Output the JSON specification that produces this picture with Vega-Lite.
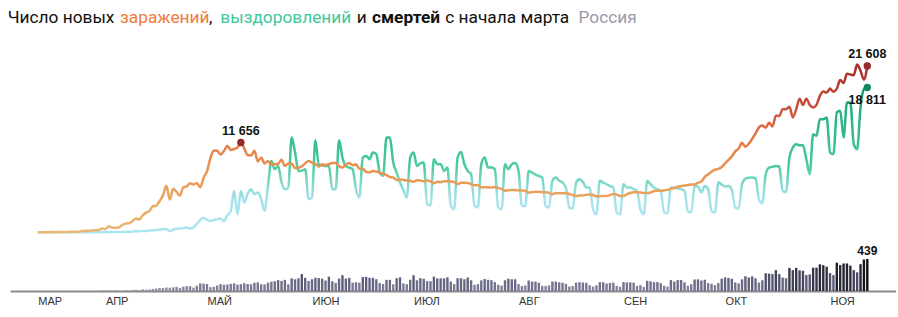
{
"$schema": "https://vega.github.io/schema/vega-lite/v6.json",
"background": "white",
"padding": {"left": 7, "top": 9, "right": 0, "bottom": 0},
"spacing": 6,
"config": {"view": {"stroke": null}, "title": {"font": "Roboto", "fontSize": 17.3, "fontWeight": "normal", "anchor": "start", "offset": 2, "color": "#111111"}},
"datasets": {
"covid": [
{"date":"2020-03-12","cases":6,"rec":0,"deaths":0},{"date":"2020-03-13","cases":11,"rec":0,"deaths":0},{"date":"2020-03-14","cases":14,"rec":0,"deaths":0},{"date":"2020-03-15","cases":4,"rec":3,"deaths":0},{"date":"2020-03-16","cases":30,"rec":1,"deaths":0},{"date":"2020-03-17","cases":21,"rec":3,"deaths":0},{"date":"2020-03-18","cases":33,"rec":0,"deaths":0},{"date":"2020-03-19","cases":52,"rec":3,"deaths":1},{"date":"2020-03-20","cases":54,"rec":1,"deaths":0},{"date":"2020-03-21","cases":53,"rec":7,"deaths":0},
{"date":"2020-03-22","cases":61,"rec":4,"deaths":0},{"date":"2020-03-23","cases":71,"rec":5,"deaths":0},{"date":"2020-03-24","cases":57,"rec":8,"deaths":0},{"date":"2020-03-25","cases":163,"rec":2,"deaths":1},{"date":"2020-03-26","cases":182,"rec":21,"deaths":1},{"date":"2020-03-27","cases":196,"rec":9,"deaths":1},{"date":"2020-03-28","cases":228,"rec":11,"deaths":0},{"date":"2020-03-29","cases":270,"rec":31,"deaths":4},{"date":"2020-03-30","cases":302,"rec":17,"deaths":1},{"date":"2020-03-31","cases":501,"rec":22,"deaths":8},
{"date":"2020-04-01","cases":440,"rec":45,"deaths":7},{"date":"2020-04-02","cases":771,"rec":23,"deaths":6},{"date":"2020-04-03","cases":601,"rec":50,"deaths":4},{"date":"2020-04-04","cases":582,"rec":35,"deaths":9},{"date":"2020-04-05","cases":658,"rec":38,"deaths":2},{"date":"2020-04-06","cases":954,"rec":49,"deaths":2},{"date":"2020-04-07","cases":1154,"rec":34,"deaths":11},{"date":"2020-04-08","cases":1175,"rec":67,"deaths":5},{"date":"2020-04-09","cases":1459,"rec":80,"deaths":13},{"date":"2020-04-10","cases":1786,"rec":170,"deaths":18},
{"date":"2020-04-11","cases":1667,"rec":100,"deaths":12},{"date":"2020-04-12","cases":2186,"rec":197,"deaths":24},{"date":"2020-04-13","cases":2558,"rec":160,"deaths":18},{"date":"2020-04-14","cases":2774,"rec":220,"deaths":22},{"date":"2020-04-15","cases":3388,"rec":240,"deaths":28},{"date":"2020-04-16","cases":3448,"rec":300,"deaths":34},{"date":"2020-04-17","cases":4070,"rec":340,"deaths":41},{"date":"2020-04-18","cases":4785,"rec":390,"deaths":40},{"date":"2020-04-19","cases":6060,"rec":420,"deaths":48},{"date":"2020-04-20","cases":4268,"rec":130,"deaths":44},
{"date":"2020-04-21","cases":5642,"rec":330,"deaths":51},{"date":"2020-04-22","cases":5236,"rec":450,"deaths":57},{"date":"2020-04-23","cases":4774,"rec":500,"deaths":42},{"date":"2020-04-24","cases":5849,"rec":560,"deaths":60},{"date":"2020-04-25","cases":5966,"rec":620,"deaths":66},{"date":"2020-04-26","cases":6361,"rec":480,"deaths":66},{"date":"2020-04-27","cases":6198,"rec":600,"deaths":47},{"date":"2020-04-28","cases":6411,"rec":1100,"deaths":73},{"date":"2020-04-29","cases":5841,"rec":1600,"deaths":105},{"date":"2020-04-30","cases":7099,"rec":1900,"deaths":101},
{"date":"2020-05-01","cases":7933,"rec":1600,"deaths":96},{"date":"2020-05-02","cases":9623,"rec":1470,"deaths":53},{"date":"2020-05-03","cases":10633,"rec":1600,"deaths":58},{"date":"2020-05-04","cases":10581,"rec":1690,"deaths":76},{"date":"2020-05-05","cases":10102,"rec":1780,"deaths":95},{"date":"2020-05-06","cases":10559,"rec":1470,"deaths":86},{"date":"2020-05-07","cases":11231,"rec":2200,"deaths":88},{"date":"2020-05-08","cases":10699,"rec":2770,"deaths":98},{"date":"2020-05-09","cases":10817,"rec":5370,"deaths":104},{"date":"2020-05-10","cases":11012,"rec":2340,"deaths":88},
{"date":"2020-05-11","cases":11656,"rec":5370,"deaths":94},{"date":"2020-05-12","cases":10899,"rec":3860,"deaths":107},{"date":"2020-05-13","cases":10028,"rec":5000,"deaths":96},{"date":"2020-05-14","cases":9974,"rec":5590,"deaths":93},{"date":"2020-05-15","cases":10598,"rec":4940,"deaths":113},{"date":"2020-05-16","cases":9200,"rec":5160,"deaths":119},{"date":"2020-05-17","cases":9709,"rec":4290,"deaths":94},{"date":"2020-05-18","cases":8926,"rec":2770,"deaths":91},{"date":"2020-05-19","cases":9263,"rec":6000,"deaths":115},{"date":"2020-05-20","cases":8764,"rec":9270,"deaths":127},
{"date":"2020-05-21","cases":8849,"rec":8190,"deaths":135},{"date":"2020-05-22","cases":8894,"rec":8620,"deaths":150},{"date":"2020-05-23","cases":9434,"rec":6500,"deaths":139},{"date":"2020-05-24","cases":8599,"rec":5590,"deaths":153},{"date":"2020-05-25","cases":8946,"rec":5810,"deaths":92},{"date":"2020-05-26","cases":8915,"rec":12310,"deaths":174},{"date":"2020-05-27","cases":8338,"rec":10360,"deaths":161},{"date":"2020-05-28","cases":8371,"rec":7970,"deaths":174},{"date":"2020-05-29","cases":8572,"rec":8000,"deaths":232},{"date":"2020-05-30","cases":8952,"rec":8190,"deaths":181},
{"date":"2020-05-31","cases":9268,"rec":4290,"deaths":138},{"date":"2020-06-01","cases":9035,"rec":4510,"deaths":162},{"date":"2020-06-02","cases":8863,"rec":11960,"deaths":182},{"date":"2020-06-03","cases":8536,"rec":8840,"deaths":178},{"date":"2020-06-04","cases":8831,"rec":8700,"deaths":169},{"date":"2020-06-05","cases":8726,"rec":8620,"deaths":144},{"date":"2020-06-06","cases":8855,"rec":8620,"deaths":197},{"date":"2020-06-07","cases":8984,"rec":5590,"deaths":134},{"date":"2020-06-08","cases":8985,"rec":5590,"deaths":112},{"date":"2020-06-09","cases":8595,"rec":11960,"deaths":171},
{"date":"2020-06-10","cases":8404,"rec":9700,"deaths":216},{"date":"2020-06-11","cases":8779,"rec":8620,"deaths":171},{"date":"2020-06-12","cases":8987,"rec":8400,"deaths":181},{"date":"2020-06-13","cases":8706,"rec":8190,"deaths":114},{"date":"2020-06-14","cases":8835,"rec":5590,"deaths":119},{"date":"2020-06-15","cases":8246,"rec":4510,"deaths":113},{"date":"2020-06-16","cases":8248,"rec":9700,"deaths":193},{"date":"2020-06-17","cases":7843,"rec":9920,"deaths":194},{"date":"2020-06-18","cases":7790,"rec":9490,"deaths":182},{"date":"2020-06-19","cases":7972,"rec":10360,"deaths":181},
{"date":"2020-06-20","cases":7889,"rec":10140,"deaths":161},{"date":"2020-06-21","cases":7728,"rec":7760,"deaths":109},{"date":"2020-06-22","cases":7600,"rec":7330,"deaths":95},{"date":"2020-06-23","cases":7425,"rec":12310,"deaths":153},{"date":"2020-06-24","cases":7176,"rec":12310,"deaths":154},{"date":"2020-06-25","cases":7113,"rec":9050,"deaths":92},{"date":"2020-06-26","cases":6800,"rec":7760,"deaths":176},{"date":"2020-06-27","cases":6852,"rec":6460,"deaths":188},{"date":"2020-06-28","cases":6791,"rec":5500,"deaths":104},{"date":"2020-06-29","cases":6719,"rec":4510,"deaths":93},
{"date":"2020-06-30","cases":6693,"rec":9700,"deaths":154},{"date":"2020-07-01","cases":6556,"rec":10360,"deaths":216},{"date":"2020-07-02","cases":6760,"rec":8620,"deaths":147},{"date":"2020-07-03","cases":6718,"rec":8940,"deaths":176},{"date":"2020-07-04","cases":6632,"rec":9050,"deaths":168},{"date":"2020-07-05","cases":6736,"rec":3640,"deaths":135},{"date":"2020-07-06","cases":6611,"rec":3510,"deaths":134},{"date":"2020-07-07","cases":6368,"rec":9490,"deaths":198},{"date":"2020-07-08","cases":6562,"rec":8840,"deaths":173},{"date":"2020-07-09","cases":6509,"rec":8840,"deaths":174},
{"date":"2020-07-10","cases":6635,"rec":7970,"deaths":174},{"date":"2020-07-11","cases":6615,"rec":8400,"deaths":188},{"date":"2020-07-12","cases":6611,"rec":3420,"deaths":130},{"date":"2020-07-13","cases":6537,"rec":2990,"deaths":95},{"date":"2020-07-14","cases":6248,"rec":9700,"deaths":175},{"date":"2020-07-15","cases":6422,"rec":10440,"deaths":175},{"date":"2020-07-16","cases":6428,"rec":8840,"deaths":162},{"date":"2020-07-17","cases":6406,"rec":7970,"deaths":186},{"date":"2020-07-18","cases":6234,"rec":7540,"deaths":147},{"date":"2020-07-19","cases":6109,"rec":3420,"deaths":85},
{"date":"2020-07-20","cases":6139,"rec":3210,"deaths":95},{"date":"2020-07-21","cases":5842,"rec":8840,"deaths":146},{"date":"2020-07-22","cases":5862,"rec":9700,"deaths":165},{"date":"2020-07-23","cases":5848,"rec":8400,"deaths":154},{"date":"2020-07-24","cases":5811,"rec":8400,"deaths":147},{"date":"2020-07-25","cases":5871,"rec":8190,"deaths":122},{"date":"2020-07-26","cases":5765,"rec":3210,"deaths":85},{"date":"2020-07-27","cases":5635,"rec":2990,"deaths":75},{"date":"2020-07-28","cases":5395,"rec":8840,"deaths":147},{"date":"2020-07-29","cases":5475,"rec":8190,"deaths":169},
{"date":"2020-07-30","cases":5509,"rec":8840,"deaths":161},{"date":"2020-07-31","cases":5482,"rec":9000,"deaths":161},{"date":"2020-08-01","cases":5462,"rec":7970,"deaths":95},{"date":"2020-08-02","cases":5427,"rec":3420,"deaths":70},{"date":"2020-08-03","cases":5394,"rec":3420,"deaths":77},{"date":"2020-08-04","cases":5159,"rec":7970,"deaths":144},{"date":"2020-08-05","cases":5204,"rec":7760,"deaths":129},{"date":"2020-08-06","cases":5267,"rec":7500,"deaths":129},{"date":"2020-08-07","cases":5241,"rec":7300,"deaths":114},{"date":"2020-08-08","cases":5212,"rec":7110,"deaths":70},
{"date":"2020-08-09","cases":5189,"rec":3420,"deaths":70},{"date":"2020-08-10","cases":5118,"rec":3210,"deaths":77},{"date":"2020-08-11","cases":4945,"rec":6680,"deaths":130},{"date":"2020-08-12","cases":5102,"rec":7110,"deaths":129},{"date":"2020-08-13","cases":5057,"rec":6680,"deaths":119},{"date":"2020-08-14","cases":5065,"rec":6460,"deaths":114},{"date":"2020-08-15","cases":5061,"rec":5810,"deaths":98},{"date":"2020-08-16","cases":4969,"rec":3210,"deaths":62},{"date":"2020-08-17","cases":4839,"rec":3080,"deaths":68},{"date":"2020-08-18","cases":4718,"rec":6460,"deaths":115},
{"date":"2020-08-19","cases":4790,"rec":6890,"deaths":121},{"date":"2020-08-20","cases":4767,"rec":6550,"deaths":117},{"date":"2020-08-21","cases":4870,"rec":5810,"deaths":113},{"date":"2020-08-22","cases":4921,"rec":5810,"deaths":80},{"date":"2020-08-23","cases":4852,"rec":2990,"deaths":61},{"date":"2020-08-24","cases":4676,"rec":2340,"deaths":78},{"date":"2020-08-25","cases":4696,"rec":6680,"deaths":121},{"date":"2020-08-26","cases":4729,"rec":6460,"deaths":121},{"date":"2020-08-27","cases":4711,"rec":6240,"deaths":102},{"date":"2020-08-28","cases":4829,"rec":6000,"deaths":110},
{"date":"2020-08-29","cases":4980,"rec":5810,"deaths":115},{"date":"2020-08-30","cases":4897,"rec":2560,"deaths":70},{"date":"2020-08-31","cases":4729,"rec":2340,"deaths":59},{"date":"2020-09-01","cases":4729,"rec":6240,"deaths":123},{"date":"2020-09-02","cases":4952,"rec":5810,"deaths":117},{"date":"2020-09-03","cases":5110,"rec":5810,"deaths":119},{"date":"2020-09-04","cases":5205,"rec":5600,"deaths":114},{"date":"2020-09-05","cases":5195,"rec":5370,"deaths":70},{"date":"2020-09-06","cases":5185,"rec":2990,"deaths":79},{"date":"2020-09-07","cases":5099,"rec":2340,"deaths":55},
{"date":"2020-09-08","cases":5099,"rec":6660,"deaths":141},{"date":"2020-09-09","cases":5172,"rec":6240,"deaths":133},{"date":"2020-09-10","cases":5363,"rec":5810,"deaths":122},{"date":"2020-09-11","cases":5406,"rec":5600,"deaths":124},{"date":"2020-09-12","cases":5406,"rec":5370,"deaths":107},{"date":"2020-09-13","cases":5449,"rec":2560,"deaths":72},{"date":"2020-09-14","cases":5509,"rec":2470,"deaths":61},{"date":"2020-09-15","cases":5670,"rec":5810,"deaths":150},{"date":"2020-09-16","cases":5762,"rec":5800,"deaths":129},{"date":"2020-09-17","cases":5905,"rec":5700,"deaths":150},
{"date":"2020-09-18","cases":5995,"rec":5590,"deaths":150},{"date":"2020-09-19","cases":6065,"rec":5400,"deaths":120},{"date":"2020-09-20","cases":6148,"rec":2770,"deaths":73},{"date":"2020-09-21","cases":6196,"rec":2560,"deaths":93},{"date":"2020-09-22","cases":6215,"rec":6020,"deaths":158},{"date":"2020-09-23","cases":6431,"rec":5940,"deaths":160},{"date":"2020-09-24","cases":6595,"rec":5160,"deaths":144},{"date":"2020-09-25","cases":7212,"rec":6020,"deaths":155},{"date":"2020-09-26","cases":7523,"rec":5600,"deaths":108},{"date":"2020-09-27","cases":7867,"rec":2770,"deaths":99},
{"date":"2020-09-28","cases":8135,"rec":2560,"deaths":80},{"date":"2020-09-29","cases":8232,"rec":6460,"deaths":109},{"date":"2020-09-30","cases":8481,"rec":6200,"deaths":169},{"date":"2020-10-01","cases":8945,"rec":5940,"deaths":186},{"date":"2020-10-02","cases":9412,"rec":6020,"deaths":179},{"date":"2020-10-03","cases":9859,"rec":5500,"deaths":169},{"date":"2020-10-04","cases":10499,"rec":3200,"deaths":117},{"date":"2020-10-05","cases":10888,"rec":3070,"deaths":105},{"date":"2020-10-06","cases":11615,"rec":6240,"deaths":160},{"date":"2020-10-07","cases":11115,"rec":6980,"deaths":202},
{"date":"2020-10-08","cases":11493,"rec":7100,"deaths":186},{"date":"2020-10-09","cases":12126,"rec":7110,"deaths":201},{"date":"2020-10-10","cases":12846,"rec":7000,"deaths":174},{"date":"2020-10-11","cases":13634,"rec":4290,"deaths":115},{"date":"2020-10-12","cases":13868,"rec":3770,"deaths":147},{"date":"2020-10-13","cases":13592,"rec":7540,"deaths":244},{"date":"2020-10-14","cases":14231,"rec":8400,"deaths":239},{"date":"2020-10-15","cases":13754,"rec":8500,"deaths":232},{"date":"2020-10-16","cases":15150,"rec":8620,"deaths":286},{"date":"2020-10-17","cases":15099,"rec":8540,"deaths":232},
{"date":"2020-10-18","cases":15982,"rec":5370,"deaths":184},{"date":"2020-10-19","cases":15982,"rec":5240,"deaths":176},{"date":"2020-10-20","cases":16319,"rec":9700,"deaths":317},{"date":"2020-10-21","cases":14922,"rec":10990,"deaths":286},{"date":"2020-10-22","cases":15971,"rec":11440,"deaths":317},{"date":"2020-10-23","cases":17340,"rec":11300,"deaths":283},{"date":"2020-10-24","cases":16521,"rec":11310,"deaths":278},{"date":"2020-10-25","cases":17347,"rec":9490,"deaths":219},{"date":"2020-10-26","cases":16550,"rec":7540,"deaths":229},{"date":"2020-10-27","cases":16202,"rec":12740,"deaths":320},
{"date":"2020-10-28","cases":16550,"rec":12530,"deaths":320},{"date":"2020-10-29","cases":17717,"rec":14690,"deaths":366},{"date":"2020-10-30","cases":18283,"rec":14690,"deaths":355},{"date":"2020-10-31","cases":18140,"rec":14900,"deaths":334},{"date":"2020-11-01","cases":18665,"rec":10360,"deaths":245},{"date":"2020-11-02","cases":18257,"rec":10140,"deaths":219},{"date":"2020-11-03","cases":18648,"rec":15560,"deaths":389},{"date":"2020-11-04","cases":19768,"rec":15770,"deaths":355},{"date":"2020-11-05","cases":19404,"rec":12310,"deaths":378},{"date":"2020-11-06","cases":20582,"rec":16860,"deaths":378},
{"date":"2020-11-07","cases":20498,"rec":16860,"deaths":349},{"date":"2020-11-08","cases":20396,"rec":11440,"deaths":286},{"date":"2020-11-09","cases":21798,"rec":10790,"deaths":256},{"date":"2020-11-10","cases":20977,"rec":16210,"deaths":368},{"date":"2020-11-11","cases":19851,"rec":18590,"deaths":432},{"date":"2020-11-12","cases":21608,"rec":18811,"deaths":439}
]
},
"vconcat": [
{
"hconcat": [
{"width": 1, "height": 1, "data": {"values": [{"a": 1}]}, "mark": {"type": "point", "opacity": 0}, "title": {"text": "Число новых", "color": "#111111"}},
{"hconcat": [
{"width": 1, "height": 1, "data": {"values": [{"a": 1}]}, "mark": {"type": "point", "opacity": 0}, "title": {"text": "заражений", "color": "#f07a3c"}},
{"width": 1, "height": 1, "data": {"values": [{"a": 1}]}, "mark": {"type": "point", "opacity": 0}, "title": {"text": ",", "color": "#111111"}}
], "spacing": -2},
{"width": 1, "height": 1, "data": {"values": [{"a": 1}]}, "mark": {"type": "point", "opacity": 0}, "title": {"text": "выздоровлений", "color": "#3ec89a"}},
{"width": 1, "height": 1, "data": {"values": [{"a": 1}]}, "mark": {"type": "point", "opacity": 0}, "title": {"text": "и", "color": "#111111"}},
{"width": 1, "height": 1, "data": {"values": [{"a": 1}]}, "mark": {"type": "point", "opacity": 0}, "title": {"text": "смертей", "color": "#111111", "fontWeight": "bold"}},
{"width": 1, "height": 1, "data": {"values": [{"a": 1}]}, "mark": {"type": "point", "opacity": 0}, "title": {"text": "с начала марта", "color": "#111111"}},
{"width": 1, "height": 1, "data": {"values": [{"a": 1}]}, "mark": {"type": "point", "opacity": 0}, "title": {"text": "Россия", "color": "#9a9aa8", "dx": 4}}
],
"spacing": 4.3
},
{
"width": 886,
"height": 250,
"data": {"name": "covid"},
"encoding": {
"x": {"field": "date", "type": "temporal",
"scale": {"type": "utc", "domain": [{"year": 2020, "month": 3, "date": 5, "hours": 7, "utc": true}, {"year": 2020, "month": 11, "date": 19, "utc": true}]},
"axis": {"title": null, "grid": false, "ticks": false, "domainColor": "#8a8a8a", "domainWidth": 2, "labelAlign": "left", "labelFont": "Liberation Sans", "labelFontSize": 11, "labelColor": "#333333", "labelPadding": 4, "labelFlush": false, "labelOverlap": false,
"values": [{"year": 2020, "month": 3, "date": 12, "utc": true}, {"year": 2020, "month": 4, "date": 1, "utc": true}, {"year": 2020, "month": 5, "date": 1, "utc": true}, {"year": 2020, "month": 6, "date": 1, "utc": true}, {"year": 2020, "month": 7, "date": 1, "utc": true}, {"year": 2020, "month": 8, "date": 1, "utc": true}, {"year": 2020, "month": 9, "date": 1, "utc": true}, {"year": 2020, "month": 10, "date": 1, "utc": true}, {"year": 2020, "month": 11, "date": 1, "utc": true}],
"labelExpr": "['ЯНВ','ФЕВ','МАР','АПР','МАЙ','ИЮН','ИЮЛ','АВГ','СЕН','ОКТ','НОЯ','ДЕК'][utcmonth(datum.value)]"}}
},
"layer": [
{"mark": {"type": "bar", "width": 2.4},
"encoding": {
"y": {"field": "deaths", "type": "quantitative", "scale": {"domain": [0, 3430], "nice": false}, "axis": null},
"color": {"field": "deaths", "type": "quantitative", "scale": {"domain": [0, 220, 439], "range": ["#9696ae", "#5a5a78", "#111118"]}, "legend": null}}},
{"mark": {"type": "line", "strokeWidth": 2.5, "interpolate": "monotone",
"color": {"gradient": "linear", "x1": 0, "y1": 1, "x2": 0, "y2": 0, "stops": [{"offset": 0, "color": "#abe5f0"}, {"offset": 0.22, "color": "#a8e3ec"}, {"offset": 0.32, "color": "#88dad3"}, {"offset": 0.45, "color": "#4dcc9f"}, {"offset": 0.55, "color": "#3dc693"}, {"offset": 0.8, "color": "#2bb283"}, {"offset": 1, "color": "#1a9b6c"}]}},
"encoding": {"y": {"field": "rec", "type": "quantitative", "scale": {"domain": [-7623, 24844], "nice": false, "zero": false}, "axis": null}}},
{"mark": {"type": "line", "strokeWidth": 2.5, "interpolate": "monotone",
"color": {"gradient": "linear", "x1": 0, "y1": 1, "x2": 0, "y2": 0, "stops": [{"offset": 0, "color": "#e9b873"}, {"offset": 0.2, "color": "#e8a660"}, {"offset": 0.4, "color": "#e8904f"}, {"offset": 0.55, "color": "#e47a45"}, {"offset": 0.65, "color": "#d9623d"}, {"offset": 0.8, "color": "#c24836"}, {"offset": 1, "color": "#a32d2c"}]}},
"encoding": {"y": {"field": "cases", "type": "quantitative", "scale": {"domain": [-7623, 24844], "nice": false, "zero": false}, "axis": null}}},
{"transform": [{"filter": "(utcmonth(datum.date) == 4 && utcdate(datum.date) == 11) || (utcmonth(datum.date) == 10 && utcdate(datum.date) == 12)"}, {"calculate": "replace(format(datum.cases, ','), ',', ' ')", "as": "lbl"}],
"layer": [
{"mark": {"type": "circle", "size": 55, "opacity": 1, "color": "#962a2a"},
"encoding": {"y": {"field": "cases", "type": "quantitative", "scale": {"domain": [-7623, 24844], "nice": false, "zero": false}, "axis": null}}},
{"mark": {"type": "text", "dy": -12, "font": "Liberation Sans", "fontSize": 12.5, "fontWeight": "bold", "color": "#111111"},
"encoding": {"y": {"field": "cases", "type": "quantitative", "scale": {"domain": [-7623, 24844], "nice": false, "zero": false}, "axis": null}, "text": {"field": "lbl"}}}
]},
{"transform": [{"filter": "utcmonth(datum.date) == 10 && utcdate(datum.date) == 12"}, {"calculate": "replace(format(datum.rec, ','), ',', ' ')", "as": "lbl"}],
"layer": [
{"mark": {"type": "circle", "size": 55, "opacity": 1, "color": "#0e8a5c"},
"encoding": {"y": {"field": "rec", "type": "quantitative", "scale": {"domain": [-7623, 24844], "nice": false, "zero": false}, "axis": null}}},
{"mark": {"type": "text", "dy": 13, "font": "Liberation Sans", "fontSize": 12.5, "fontWeight": "bold", "color": "#111111"},
"encoding": {"y": {"field": "rec", "type": "quantitative", "scale": {"domain": [-7623, 24844], "nice": false, "zero": false}, "axis": null}, "text": {"field": "lbl"}}}
]},
{"transform": [{"filter": "utcmonth(datum.date) == 10 && utcdate(datum.date) == 12"}],
"mark": {"type": "text", "dy": -8, "font": "Liberation Sans", "fontSize": 12, "fontWeight": "bold", "color": "#111111"},
"encoding": {"y": {"field": "deaths", "type": "quantitative", "scale": {"domain": [0, 3430], "nice": false}, "axis": null}, "text": {"field": "deaths"}}}
],
"resolve": {"scale": {"y": "independent", "color": "independent"}}
}
]
}
